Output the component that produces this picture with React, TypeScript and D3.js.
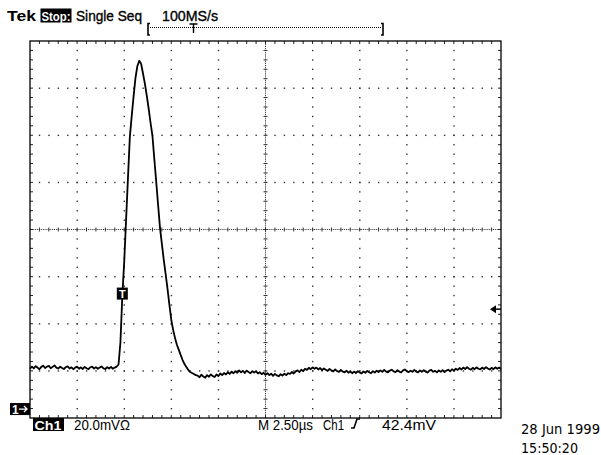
import React from "react";
import * as d3 from "d3";

const TIME_START_US = -4.9; // left edge of screen, trigger at 0
const SAMPLE_US = 0.1;
const TIME_DOMAIN = [-4.9, 20.1]; // 2.50 µs/div, 10 div
const VOLT_DOMAIN = [-3.8, 156.2]; // 20.0 mV/div, 8 div
const TIME_DIV_US = 2.5;
const VOLT_DIV_MV = 20;
const TRIGGER_LEVEL_MV = 42.4;
const TRIGGER_TIME_US = 0;
const T_MARK_MV = 49;

const baselineLeft = [
  17.2, 18.0, 17.3, 18.2, 17.6, 16.9, 17.9, 18.4, 17.4, 18.0, 18.3, 17.3, 17.9, 18.5, 17.6, 17.2,
  18.0, 17.4, 17.0, 17.8, 18.1, 17.2, 17.7, 16.9, 17.6, 18.0, 17.1, 17.7, 17.0, 17.9, 17.3, 16.9,
  17.7, 18.0, 17.2, 17.8, 17.1, 17.6, 18.1, 17.3, 17.0, 17.8, 17.2, 17.9, 17.1, 17.6, 18.0,
];
const pulse = [
  18.9, 28.4, 48.0, 62.4, 80.3, 98.1, 115.5, 124.4, 132.9, 140.6, 145.6, 147.8, 146.5, 142.3,
  138.0, 132.9, 127.4, 121.4, 115.9, 106.0, 96.4, 86.6, 76.9, 70.1, 63.3, 57.3, 51.0, 44.2, 37.8,
  33.5, 30.1, 27.2, 25.1, 22.9, 20.8, 19.1, 17.8, 16.6, 15.7, 15.3, 14.9, 14.4,
];
const baselineRight = [
  14.2, 13.5, 14.6, 13.8, 13.3, 14.4, 13.7, 14.7, 14.0, 13.6,
  14.7, 14.0, 15.1, 14.4, 15.3, 14.7, 15.6, 14.9, 15.9, 15.2,
  16.1, 15.4, 16.4, 15.6, 16.2, 15.3, 16.3, 15.7, 15.2, 16.1, 15.5, 16.0, 15.1,
  15.6, 14.8, 15.4, 14.5, 15.2, 14.4, 15.0, 14.1, 14.9, 14.3, 13.9, 14.8, 14.2, 15.0, 14.4, 15.2,
  14.9, 15.7, 15.1, 16.0, 16.4, 15.7, 16.7, 16.1, 17.1, 16.6, 17.5, 16.9, 17.7, 17.1,
  17.6, 16.8, 17.4, 16.5, 17.2, 16.7, 16.2, 17.0, 16.4, 16.0, 16.8, 16.1, 15.8, 16.6, 15.9,
  15.6, 16.3, 15.4, 16.0, 15.2, 15.9, 15.3, 16.1, 15.5, 15.1, 16.0, 15.4, 16.2, 15.6, 15.2, 16.1,
  15.5, 16.3, 15.7,
  16.4, 15.8, 16.6, 15.9, 15.6, 16.3, 16.7, 16.0, 15.7, 16.5, 15.9, 15.5, 16.4, 16.8, 16.0, 15.7,
  16.3, 15.8, 16.6, 15.9, 15.6, 16.4, 15.8, 16.5, 15.9, 15.5, 16.3, 16.6, 15.8, 16.2, 15.6, 16.4,
  15.8, 16.5, 15.7, 16.3, 16.7, 16.0, 16.9, 16.3, 17.1, 16.6,
  17.4, 16.8, 17.6, 17.0, 17.8, 17.1, 16.7, 17.5, 16.9, 17.7, 17.1, 16.8, 17.6, 17.0, 17.8, 17.2,
  16.8, 17.5, 16.9, 17.7, 17.1, 17.6, 17.0,
];
const trace = [...baselineLeft, ...pulse, ...baselineRight];

const headerLabels = ["Tek", "Stop:", "Single Seq", "100MS/s"];
const footerLabels = ["Ch1", "20.0mVΩ", "M 2.50µs", "Ch1", "42.4mV"];
const dateLabels = ["28 Jun 1999", "15:50:20"];

// ---- layout ----
const W = 601;
const H = 455;
const LEFT = 30;
const RIGHT = 501;
const TOP = 41;
const BOTTOM = 418;

export default function App() {
  const x = d3.scaleLinear().domain(TIME_DOMAIN).range([LEFT, RIGHT]);
  const y = d3.scaleLinear().domain(VOLT_DOMAIN).range([BOTTOM, TOP]);
  const divX = x(TIME_DOMAIN[0] + TIME_DIV_US) - x(TIME_DOMAIN[0]);
  const divY = y(VOLT_DOMAIN[0]) - y(VOLT_DOMAIN[0] + VOLT_DIV_MV);
  const nX = Math.round((TIME_DOMAIN[1] - TIME_DOMAIN[0]) / TIME_DIV_US);
  const nY = Math.round((VOLT_DOMAIN[1] - VOLT_DOMAIN[0]) / VOLT_DIV_MV);
  const cx = LEFT + divX * (nX / 2);
  const cy = TOP + divY * (nY / 2);

  const line = d3
    .line<number>()
    .x((_, i) => x(TIME_START_US + i * SAMPLE_US))
    .y((d) => y(d))
    .curve(d3.curveLinear);

  const dots: JSX.Element[] = [];
  for (let i = 1; i < nX; i++) {
    if (i === nX / 2) continue;
    const gx = LEFT + i * divX;
    for (let k = 1; k < nY * 5; k++) {
      const gy = TOP + (k * divY) / 5;
      dots.push(<rect key={`v${i}-${k}`} x={gx - 0.6} y={gy - 0.6} width={1.4} height={1.4} fill="#333" />);
    }
  }
  for (let j = 1; j < nY; j++) {
    if (j === nY / 2) continue;
    const gy = TOP + j * divY;
    for (let k = 1; k < nX * 5; k++) {
      const gx = LEFT + (k * divX) / 5;
      dots.push(<rect key={`h${j}-${k}`} x={gx - 0.6} y={gy - 0.6} width={1.4} height={1.4} fill="#333" />);
    }
  }
  for (let k = 1; k < nX * 25; k++) {
    const gx = LEFT + (k * divX) / 25;
    dots.push(<rect key={`cx${k}`} x={gx - 0.5} y={cy - 0.5} width={1} height={1} fill="#333" />);
  }
  for (let k = 1; k < nY * 25; k++) {
    const gy = TOP + (k * divY) / 25;
    dots.push(<rect key={`cy${k}`} x={cx - 0.5} y={gy - 0.5} width={1} height={1} fill="#333" />);
  }
  const ticks: JSX.Element[] = [];
  for (let k = 1; k < nX * 5; k++) {
    const gx = LEFT + (k * divX) / 5;
    ticks.push(<line key={`ct${k}`} x1={gx} x2={gx} y1={cy - 2} y2={cy + 2} stroke="#333" strokeWidth={1} />);
    ticks.push(<line key={`tt${k}`} x1={gx} x2={gx} y1={TOP} y2={TOP + 3} stroke="#222" strokeWidth={1} />);
    ticks.push(<line key={`bt${k}`} x1={gx} x2={gx} y1={BOTTOM - 3} y2={BOTTOM} stroke="#222" strokeWidth={1} />);
  }
  for (let k = 1; k < nY * 5; k++) {
    const gy = TOP + (k * divY) / 5;
    ticks.push(<line key={`cv${k}`} x1={cx - 2} x2={cx + 2} y1={gy} y2={gy} stroke="#333" strokeWidth={1} />);
    ticks.push(<line key={`lt${k}`} x1={LEFT} x2={LEFT + 3} y1={gy} y2={gy} stroke="#222" strokeWidth={1} />);
    ticks.push(<line key={`rt${k}`} x1={RIGHT - 3} x2={RIGHT} y1={gy} y2={gy} stroke="#222" strokeWidth={1} />);
  }

  const font = "'Liberation Sans', Arial, sans-serif";
  const trigY = y(TRIGGER_LEVEL_MV);
  const gndY = y(0);
  const tmx = x(TRIGGER_TIME_US);
  const tmy = y(T_MARK_MV);

  return (
    <svg
      width={W}
      height={H}
      viewBox={`0 0 ${W} ${H}`}
      style={{ position: "absolute", left: 0, top: 0, background: "#fff" }}
      fontFamily={font}
    >
      <rect x={0} y={0} width={W} height={H} fill="#fff" />
      {/* header */}
      <text x={7} y={20.5} fontSize={14} fontWeight="bold" textLength={29} lengthAdjust="spacingAndGlyphs">{headerLabels[0]}</text>
      <rect x={40.5} y={8.5} width={31} height={14} fill="#000" />
      <text x={41.5} y={20.5} fontSize={13.5} fontWeight="bold" fill="#fff" textLength={29} lengthAdjust="spacingAndGlyphs">{headerLabels[1]}</text>
      <text x={76} y={20.5} fontSize={14.5} stroke="#000" strokeWidth={0.35} textLength={66} lengthAdjust="spacingAndGlyphs">{headerLabels[2]}</text>
      <text x={162} y={20.5} fontSize={14.5} stroke="#000" strokeWidth={0.35} textLength={56} lengthAdjust="spacingAndGlyphs">{headerLabels[3]}</text>
      {/* record bracket */}
      <path d="M150,23.5 L148,23.5 L148,35 L150,35" fill="none" stroke="#000" strokeWidth={1.6} />
      <path d="M381,23.5 L383,23.5 L383,35 L381,35" fill="none" stroke="#000" strokeWidth={1.6} />
      <line x1={150} x2={381} y1={27.5} y2={27.5} stroke="#000" strokeWidth={1} strokeDasharray="1,1" />
      <path d="M189.5,24 L197.5,24 M193.5,24 L193.5,33" stroke="#000" strokeWidth={1.4} fill="none" />

      {/* graticule */}
      {dots}
      {ticks}
      <rect x={LEFT} y={TOP} width={RIGHT - LEFT} height={BOTTOM - TOP} fill="none" stroke="#000" strokeWidth={1.3} />

      {/* waveform */}
      <path d={line(trace) || ""} fill="none" stroke="#000" strokeWidth={1.8} strokeLinejoin="round" />

      {/* trigger T marker on trace */}
      <rect x={tmx - 5.5} y={tmy - 6} width={11} height={12} fill="#000" />
      <text x={tmx} y={tmy + 4.5} fontSize={11} fontWeight="bold" fill="#fff" textAnchor="middle">T</text>

      {/* trigger level arrow */}
      <path d={`M${RIGHT - 11},${trigY} L${RIGHT - 5},${trigY - 4} L${RIGHT - 5},${trigY + 4} Z`} fill="#000" />
      <line x1={RIGHT - 6} x2={RIGHT} y1={trigY} y2={trigY} stroke="#000" strokeWidth={1.5} />

      {/* ground marker */}
      <rect x={10} y={gndY - 6} width={20} height={12} fill="#000" />
      <text x={12} y={gndY + 4.5} fontSize={12} fontWeight="bold" fill="#fff">1</text>
      <path d={`M19,${gndY} L27,${gndY} M24,${gndY - 3} L27,${gndY} L24,${gndY + 3}`} stroke="#fff" strokeWidth={1.3} fill="none" />

      {/* footer */}
      <rect x={33} y={418} width={31} height={13} fill="#000" />
      <text x={34.5} y={429.5} fontSize={13.5} fontWeight="bold" fill="#fff" textLength={27} lengthAdjust="spacingAndGlyphs">{footerLabels[0]}</text>
      <text x={74} y={429.5} fontSize={14} textLength={56} lengthAdjust="spacingAndGlyphs">{footerLabels[1]}</text>
      <text x={258} y={429.5} fontSize={14} textLength={55} lengthAdjust="spacingAndGlyphs">{footerLabels[2]}</text>
      <text x={323} y={429.5} fontSize={14} textLength={21} lengthAdjust="spacingAndGlyphs">{footerLabels[3]}</text>
      <path d="M351,428 L354,428 L357,419 L360,419" stroke="#000" strokeWidth={1.6} fill="none" />
      <text x={382} y={429.5} fontSize={14} textLength={54} lengthAdjust="spacingAndGlyphs">{footerLabels[4]}</text>
      <text x={521} y={434} fontSize={13.5} fontFamily="'DejaVu Sans', sans-serif" textLength={79} lengthAdjust="spacingAndGlyphs">{dateLabels[0]}</text>
      <text x={521} y={453} fontSize={13.5} fontFamily="'DejaVu Sans', sans-serif" textLength={57} lengthAdjust="spacingAndGlyphs">{dateLabels[1]}</text>
    </svg>
  );
}
